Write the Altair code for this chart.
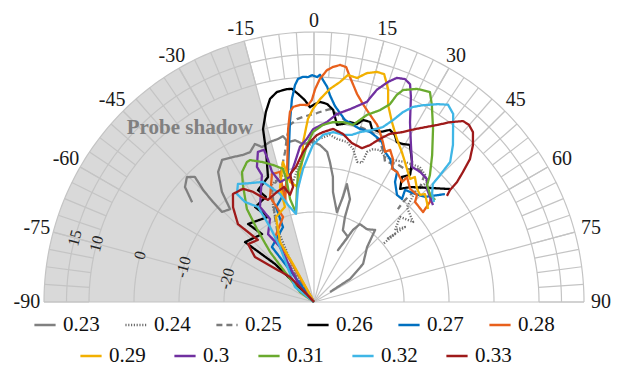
import altair as alt
import pandas as pd
import numpy as np

# ---------------- data (angle in degrees, level in dB) ----------------
SERIES = ["0.23", "0.24", "0.25", "0.26", "0.27", "0.28", "0.29", "0.3", "0.31", "0.32", "0.33"]
COLORS = ["#808080", "#6e6e6e", "#7a7a7a", "#000000", "#0070c0", "#e8601c",
          "#f2b000", "#7030a0", "#6aaa2e", "#3fb6e6", "#9e1a1a"]
DASHES = [[1, 0], [1.2, 1.6], [6, 4], [1, 0], [1, 0], [1, 0],
          [1, 0], [1, 0], [1, 0], [1, 0], [1, 0]]

ANG_023 = [-50.7, -48.3, -45.5, -43.6, -44.7, -45.3, -45.6, -42.1, -39.9, -36.4, -32.9, -29.2, -25.8, -23.1, -20.5,
           -18.5, -15.4, -12.5, -10.6, -9.2, -6.7, -4.0, -0.4, 2.2, 5.0, 6.5, 8.6, 9.8, 14.3, 15.4, 15.6, 19.3, 20.0,
           21.9, 27.6, 24.8, 28.4, 30.5, 36.0, 40.3, 44.0, 52.2, 57.4, 58.0]
DB_023 = [-5.0, -1.6, -0.4, -1.6, -5.0, -8.4, -11.4, -12.2, -8.1, -4.1, -2.4, -3.1, -3.7, -3.8, -2.5,
          -3.7, -3.1, -2.9, -2.5, -4.0, -3.8, -4.8, -4.4, -5.1, -6.5, -8.7, -11.9, -15.2, -19.4, -15.8, -12.8, -15.8,
          -19.9, -22.8, -23.7, -27.3, -21.8, -19.9, -20.0, -19.0, -23.0, -26.2, -30.5, -35.8]

ANG_024 = [-32, -32.3, -26.6, -23.3, -19.6, -12.8, -9.9, -5.7, -2.6, 0.4, 2.8, 5.5, 8.0, 11.7, 14.3, 17.1, 19.0,
           19.5, 21.1, 23.5, 26.1, 29.1, 33.0, 38.1, 41.2, 43.3, 42.6, 44.4, 51.1, 45.3, 48.4, 50.5, 49.2, 50.0, 50.0]
DB_024 = [-40, -32.1, -22.1, -17.0, -12.2, -10.8, -12.9, -8.7, -5.5, -4.0, -3.5, -2.7, -3.4, -3.7, -4.9, -7.4, -7.3,
          -4.6, -3.6, -3.2, -4.1, -3.9, -2.9, -1.9, -2.5, -3.4, -6.8, -10.5, -11.7, -13.1, -15.9, -13.8, -18.6, -16.5,
          -20.0]

ANG_025 = [-34.5, -34.5, -31.7, -24.7, -20.1, -15.2, -10.9, -9.3, -7.7, -5.3, -3.4, -1.2, 0.9, 2.7, 4.7, 7.0, 10.4,
           14.7, 18.8, 22.4, 25.3, 26.9, 31.0, 34.4, 38.0, 40.9, 42.7, 41.9, 41.7, 42.1]
DB_025 = [-40, -31.4, -25.6, -19.2, -12.8, -11.2, -6.0, -2.8, -0.3, 0.8, 1.2, 1.6, 2.0, 2.5, 3.0, 2.1, 0.7, 0.2,
          -0.1, -1.5, -3.6, -5.1, -4.2, -4.2, -2.5, -2.4, -5.2, -8.0, -10.2, -12.2]

ANG_026 = [-45, -45.7, -49.0, -37.4, -40.2, -28.4, -31.8, -24.6, -26.6, -20.2, -17.7, -16.4, -14.2, -12.2, -10.0,
           -7.2, -5.9, -4.4, -2.6, -1.2, 0.3, 1.7, 3.8, 5.7, 7.4, 9.3, 11.3, 13.6, 15.1, 17.3, 18.5, 21.2, 23.8, 25.9,
           27.4, 29.4, 31.4, 35.0, 37.1, 35.1, 37.3, 39.9, 44.7, 50.3]
DB_026 = [-40, -27.9, -19.7, -21.0, -17.3, -18.5, -15.2, -14.3, -12.2, -10.4, -5.0, 0.1, 3.6, 6.2, 7.4, 7.7, 7.6,
          6.4, 4.9, 3.3, 4.0, 4.5, 4.1, 2.9, -0.3, 0.1, 0.8, 0.7, 1.9, 1.9, 0.6, 0.5, 1.8, 1.2, 0.0, 0.3, 0.9, -2.0,
          -4.6, -6.0, -8.4, -6.7, -4.3, -0.7]

ANG_027 = [-37, -37.3, -37.4, -22.5, -21.8, -14.8, -12.4, -11.3, -7.6, -6.2, -5.0, -4.1, -2.8, -1.5, -0.5, 0.8, 1.5,
           2.3, 3.5, 4.4, 6.1, 9.7, 14.9, 18.2, 20.9, 23.0, 25.3, 28.0, 30.7, 32.6, 34.0, 37.8, 40.5, 39.1, 43.1, 46.6,
           50.5]
DB_027 = [-40, -29.4, -24.6, -22.0, -17.3, -14.7, -12.0, -10.5, 0.4, 5.4, 8.4, 9.7, 10.1, 10.0, 10.4, 10.0, 10.5, 9.4,
          7.9, 6.1, 3.8, 1.0, -0.2, -0.2, -0.8, -1.4, -3.1, -4.0, -5.6, -5.7, -7.8, -9.9, -9.9, -7.9, -7.1, -6.0, -2.3]

ANG_028 = [-30, -29.7, -31.0, -20.0, -22.7, -18.2, -14.7, -16.2, -11.7, -8.5, -7.2, -6.1, -4.1, -1.7, -0.6, 0.3, 1.5,
           3.2, 4.6, 6.3, 7.8, 9.1, 11.7, 13.9, 16.7, 19.6, 21.2, 23.3, 25.3, 26.6, 28.9, 30.4, 32.6, 36.3, 36.7, 40.3,
           43.9, 45.3, 50.5, 49.2, 47.0]
DB_028 = [-40, -29.2, -23.2, -19.9, -14.7, -10.1, -10.1, -16.9, -10.5, -1.1, 2.6, 3.6, 3.9, 3.8, 4.9, 7.3, 9.6, 11.6,
          12.4, 13.0, 12.7, 10.6, 7.2, 5.3, 3.4, 1.8, 0.5, -1.3, -3.1, -2.2, -3.7, -5.7, -5.7, -6.9, -5.4, -7.0, -7.0,
          -8.4, -8.6, -6.0, -4.2]

ANG_029 = [-29, -28.9, -29.5, -24.1, -17.0, -16.5, -12.5, -11.3, -7.9, -4.9, -3.9, -1.9, -0.3, 1.7, 4.3, 6.7, 8.5,
           10.9, 13.0, 15.3, 17.1, 19.2, 20.6, 23.4, 27.0, 30.4, 33.0, 35.9, 38.0, 38.9, 42.3, 44.7, 45.8, 48.5, 50.8]
DB_029 = [-40, -30.4, -24.7, -19.3, -17.9, -13.4, -8.1, -12.8, -14.2, -8.8, -4.4, 0.7, 2.9, 5.1, 7.5, 9.2, 11.0,
          10.7, 12.2, 13.0, 13.0, 10.1, 6.8, 3.6, 0.6, -1.4, -2.9, -4.4, -5.3, -4.3, -6.0, -6.5, -5.6, -6.5, -7.3]

ANG_030 = [-43, -43, -31.7, -34.1, -27.9, -29.6, -22.3, -22.9, -20.5, -18.2, -17.9, -17.9, -15.8, -10.9, -7.7, -5.2,
           -2.5, -0.3, 4.1, 7.0, 10.6, 14.8, 16.5, 18.6, 20.3, 22.2, 23.8, 25.3, 28.1, 31.7, 36.0, 39.2, 42.6, 45.0,
           47.8, 50.8]
DB_030 = [-40, -35.4, -25.6, -21.8, -19.1, -15.7, -9.5, -7.4, -4.4, -4.4, -6.8, -9.6, -12.3, -11.7, -8.6, -5.4, -3.7,
          -1.6, 0.1, 2.1, 3.6, 6.0, 9.2, 11.6, 13.1, 13.5, 12.9, 10.4, 5.3, 1.0, -2.9, -2.7, -2.9, -4.5, -5.2, -5.9]

ANG_031 = [-54.5, -54.5, -41.3, -38.0, -35.8, -31.3, -29.0, -25.6, -24.3, -20.4, -16.7, -13.1, -12.7, -13.1, -11.4,
           -8.6, -7.0, -4.4, -2.6, -0.3, 2.9, 6.0, 9.2, 12.4, 15.8, 19.0, 21.0, 21.8, 22.8, 25.8, 28.9, 30.9, 34.5,
           38.8, 42.4, 44.0, 47.3, 49.9]
DB_031 = [-40, -36.2, -25.2, -19.4, -14.5, -9.6, -7.0, -5.5, -5.4, -6.8, -8.2, -9.6, -12.7, -16.5, -19.8, -14.6,
          -10.9, -8.1, -5.1, -2.2, -0.6, 0.2, 0.5, 0.3, 3.2, 5.1, 7.1, 9.6, 11.1, 12.6, 13.3, 11.0, 6.7, 1.9, -1.8,
          -3.8, -4.9, -4.8]

ANG_032 = [-51.7, -51.7, -31.7, -30.4, -30.5, -34.6, -35.5, -32.8, -28.3, -23.0, -17.5, -15.0, -11.6, -8.1, -4.7,
           -2.8, -0.4, 3.1, 6.4, 9.9, 12.8, 15.1, 18.6, 21.5, 23.5, 25.1, 26.9, 29.0, 32.1, 34.2, 36.5, 41.5, 44.2,
           44.8, 45.2, 47.5, 50.2]
DB_032 = [-40, -34.6, -25.6, -20.7, -15.5, -13.0, -10.5, -8.8, -10.0, -11.0, -14.8, -17.7, -20.0, -14.6, -10.3, -8.2,
          -5.1, -2.8, -2.0, -2.3, -1.9, -0.9, 0.3, 1.8, 4.1, 6.6, 8.6, 10.0, 11.9, 13.0, 12.0, 6.6, 3.4, -0.2, -2.8,
          -4.4, -5.3]

ANG_033 = [-43.8, -43.8, -52.7, -48.7, -42.1, -44.3, -40.5, -36.9, -32.1, -29.0, -26.3, -24.3, -18.6, -14.6, -12.6,
           -10.3, -10.6, -7.6, -4.2, -1.4, 1.0, 3.0, 6.3, 9.8, 13.4, 17.3, 19.6, 22.0, 24.3, 27.4, 30.3, 32.4, 34.8,
           37.1, 39.5, 41.2, 43.1, 45.4, 47.5, 48.9, 50.0, 50.5, 51.4]
DB_033 = [-40, -32.3, -23.5, -20.5, -21.4, -15.8, -12.3, -10.0, -10.3, -12.0, -14.0, -15.1, -14.2, -13.6, -15.6,
          -14.0, -11.1, -9.7, -6.6, -4.4, -2.9, -2.2, -1.3, -2.1, -3.7, -4.2, -3.0, -0.9, 1.0, 2.5, 4.5, 6.0, 7.9,
          10.1, 12.1, 12.3, 11.7, 9.6, 7.0, 3.9, 1.5, -0.8, -2.2]

ANGLES = [ANG_023, ANG_024, ANG_025, ANG_026, ANG_027, ANG_028, ANG_029, ANG_030, ANG_031, ANG_032, ANG_033]
LEVELS = [DB_023, DB_024, DB_025, DB_026, DB_027, DB_028, DB_029, DB_030, DB_031, DB_032, DB_033]

# axis / grid definitions
RADIAL_MIN = -40                      # dB at the centre
RING_DB = [-20, -10, 0, 10, 15, 20]
RADIAL_LABELS = [-20, -10, 0, 10, 15]
RADIAL_LABEL_ANGLE = -75
ANGLE_TICKS = list(range(-90, 91, 15))
MINOR_STEP = 3.75
SHADOW = (-90, -15)
SHADOW_TEXT = "Probe shadow"

# ---------------- tables ----------------
rows = []
for s, angs, dbs in zip(SERIES, ANGLES, LEVELS, strict=True):
    for i, (a, d) in enumerate(zip(angs, dbs, strict=True)):
        rows.append({"s": s, "i": i, "ang": a, "db": d})
lines_df = pd.DataFrame(rows)

ring_df = pd.DataFrame([{"db": d, "ang": float(a)} for d in RING_DB for a in np.arange(-90, 90.01, 1.0)])
spoke_df = pd.DataFrame([{"ang": a, "db0": RADIAL_MIN, "db1": RING_DB[-1]} for a in ANGLE_TICKS])
minor_df = pd.DataFrame([{"ang": float(a), "db0": RING_DB[-3], "db1": RING_DB[-1]}
                         for a in np.arange(-90, 90.01, MINOR_STEP)])
shadow_pts = [{"ang": float(a), "db": RING_DB[-1]} for a in np.arange(SHADOW[0], SHADOW[1] + 0.01, 0.5)]
shadow_pts.append({"ang": float(SHADOW[1]), "db": RADIAL_MIN})
shadow_df = pd.DataFrame(shadow_pts)
alab_df = pd.DataFrame([{"ang": a, "t": str(a)} for a in ANGLE_TICKS])
rlab_df = pd.DataFrame([{"ang": RADIAL_LABEL_ANGLE, "db": d, "t": str(d)} for d in RADIAL_LABELS])
probe_df = pd.DataFrame([{"ang": -35.5, "db": 7.5, "t": SHADOW_TEXT}])

# ---------------- geometry ----------------
PPU = 4.5           # pixels per dB
W, H = 611, 362
CX, CY = 306, 294   # centre inside the plot area
xs = alt.Scale(domain=[-CX / PPU, (W - CX) / PPU], nice=False, zero=False)
ys = alt.Scale(domain=[-(H - CY) / PPU, CY / PPU], nice=False, zero=False)
SERIF = "Liberation Serif"
# angle labels sit just outside the outer ring (radius in dB units from centre)
LABEL_R_EXPR = "(62.5 + 1.3 * abs(sin(datum.ang * PI / 180)))"


def polar(ch, db="db", ang="ang", px="x", py="y"):
    return ch.transform_calculate(**{
        "r_" + px: f"max(0, datum.{db} - ({RADIAL_MIN}))"
    }).transform_calculate(**{
        px: f"datum.r_{px} * sin(datum.{ang} * PI / 180)",
        py: f"datum.r_{px} * cos(datum.{ang} * PI / 180)",
    })


X = lambda f: alt.X(f, type="quantitative", scale=xs, axis=None)
Y = lambda f: alt.Y(f, type="quantitative", scale=ys, axis=None)
GRID = "#c4c4c4"

shadow = polar(alt.Chart(shadow_df)).mark_area(color="#d9d9d9", opacity=1).encode(
    x=X("x"), y=Y("y"), y2=alt.datum(0))

rings = polar(alt.Chart(ring_df)).mark_line(color=GRID, strokeWidth=1.2).encode(
    x=X("x"), y=Y("y"), detail="db:N", order="ang:Q")

spokes = polar(polar(alt.Chart(spoke_df), db="db0", px="x", py="y"), db="db1", px="x2", py="y2").mark_rule(
    color=GRID, strokeWidth=1.2).encode(x=X("x"), y=Y("y"), x2="x2:Q", y2="y2:Q")

minor = polar(polar(alt.Chart(minor_df), db="db0", px="x", py="y"), db="db1", px="x2", py="y2").mark_rule(
    color=GRID, strokeWidth=1.2).encode(x=X("x"), y=Y("y"), x2="x2:Q", y2="y2:Q")

alab = alt.Chart(alab_df).transform_calculate(
    x=f"{LABEL_R_EXPR} * sin(datum.ang * PI / 180)", y=f"{LABEL_R_EXPR} * cos(datum.ang * PI / 180)"
).mark_text(font=SERIF, fontSize=20, color="#1a1a1a", baseline="middle", align="center").encode(
    x=X("x"), y=Y("y"), text="t:N")

rlab = polar(alt.Chart(rlab_df)).mark_text(font=SERIF, fontSize=16, color="#262626", baseline="middle",
                                          align="center", angle=360 + RADIAL_LABEL_ANGLE).encode(
    x=X("x"), y=Y("y"), text="t:N")

probe = polar(alt.Chart(probe_df)).mark_text(font=SERIF, fontSize=21, fontWeight="bold", color="#808080",
                                            baseline="middle", align="center").encode(
    x=X("x"), y=Y("y"), text="t:N")


def series_layer(idx, lx, ly, pad):
    names = [SERIES[k] for k in idx]
    cols = [COLORS[k] for k in idx]
    dashes = [DASHES[k] for k in idx]
    leg = dict(orient="none", legendX=lx, legendY=ly, direction="horizontal", title=None,
               symbolType="stroke", symbolSize=450, symbolStrokeWidth=2.6, labelFont=SERIF,
               labelFontSize=21, labelColor="#111111", columnPadding=pad, labelOffset=6, padding=0)
    return polar(alt.Chart(lines_df)).transform_filter(
        alt.FieldOneOfPredicate(field="s", oneOf=names)
    ).mark_line(strokeWidth=2.3, strokeJoin="round").encode(
        x=X("x"), y=Y("y"), order="i:Q",
        color=alt.Color("s:N", scale=alt.Scale(domain=names, range=cols), legend=alt.Legend(**leg)),
        strokeDash=alt.StrokeDash("s:N", scale=alt.Scale(domain=names, range=dashes), legend=alt.Legend(**leg)),
    )


linesA = series_layer(range(0, 6), 25, 305, 20)
linesB = series_layer(range(6, 11), 71, 336, 23)

chart = alt.layer(shadow, rings, spokes, minor, rlab, alab, probe, linesA, linesB).resolve_scale(
    color="independent", strokeDash="independent"
).properties(
    width=W, height=H, padding=0, autosize=alt.AutoSizeParams(type="none"), background="white"
).configure_view(stroke=None).configure_text(font=SERIF).configure_legend(labelFont=SERIF)

chart.save("out.html", embed_options={"renderer": "svg", "actions": False})
